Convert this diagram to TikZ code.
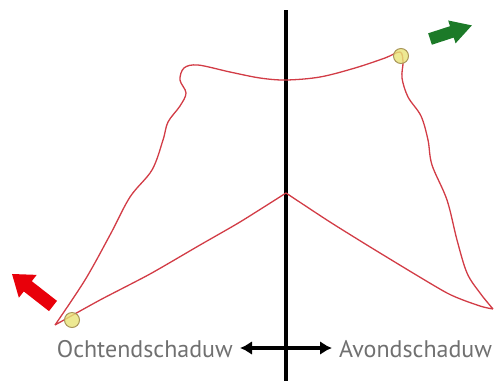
\documentclass[tikz,border=0pt]{standalone}
\usepackage{fontspec}
\setmainfont{PT Sans}
\usetikzlibrary{arrows.meta}
\definecolor{curvered}{RGB}{210,60,70}
\definecolor{arrred}{RGB}{232,0,10}
\definecolor{arrgreen}{RGB}{28,122,40}
\definecolor{dotfill}{RGB}{232,228,120}
\definecolor{dotedge}{RGB}{170,150,90}
\definecolor{labelgray}{RGB}{112,112,112}
\tikzset{
  shadow/.style={draw=curvered, line width=1.3pt, line join=round},
  sundot/.style={circle, fill=dotfill, fill opacity=0.8, draw=dotedge, line width=1pt, minimum size=15pt, inner sep=0pt},
  label/.style={text=labelgray, font=\fontsize{24}{27}\selectfont, inner sep=0pt},
}
\begin{document}
\begin{tikzpicture}[x=1pt,y=-1pt]
\useasboundingbox (0,0) rectangle (497,381);
% axis
\draw[line width=4.5pt] (286,10) coordinate (vtop) -- (286,381) coordinate (vbot);
% shadow curve
\draw[shadow] plot[smooth, tension=0.55] coordinates {
 (55,325) (85,280) (110,235) (130,197) (152,170) (163,140) (168,122) (180,106)
 (186,93) (180,80) (184,68) (198,65) (230,72) (260,78) (286,80) (320,77)
 (355,68) (385,58) (400,52) (403,62) (402,78) (408,97) (421,116) (428,140)
 (432,165) (447,200) (457,240) (467,273) (480,293) (493,309)}
 plot[smooth, tension=0.4] coordinates {(493,309) (480,306) (447,293) (380,253) (330,222) (286,193)}
 plot[smooth, tension=0.4] coordinates {(286,193) (240,222) (200,245) (150,274) (100,300) (55,325)};
% sun dots
\node[sundot] (dotL) at (72,320) {};
\node[sundot] (dotR) at (401,56) {};
% red block arrow
\begin{scope}[shift={(53,306)}, rotate=142]
\fill[arrred] (0,-6.5) -- (32,-6.5) -- (32,-14.5) -- (52,0) -- (32,14.5) -- (32,6.5) -- (0,6.5) -- cycle;
\end{scope}
% green block arrow
\begin{scope}[shift={(430,39)}, rotate=18]
\fill[arrgreen] (0,-6) -- (23,-6) -- (23,-12) -- (44,0) -- (23,12) -- (23,6) -- (0,6) -- cycle;
\end{scope}
% labels
\node[label, anchor=base east] (ochtend) at (233,357) {Ochtendschaduw};
\node[label, anchor=base west] (avond) at (339,357) {Avondschaduw};
\coordinate (aL) at (240,348);
\coordinate (aR) at (332,348);
\draw[line width=4pt, {Latex[length=12pt,width=14pt]}-{Latex[length=12pt,width=14pt]}] (aL) -- (aR);
\end{tikzpicture}
\end{document}
